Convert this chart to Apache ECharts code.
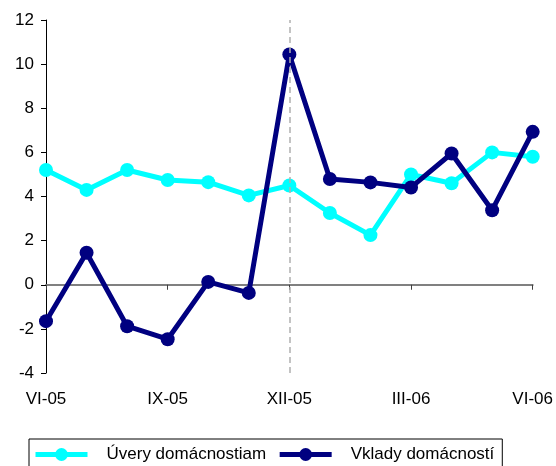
<!DOCTYPE html>
<html>
<head>
<meta charset="utf-8">
<script src="https://cdn.jsdelivr.net/npm/echarts@6/dist/echarts.min.js"></script>
<style>html,body{margin:0;padding:0;background:#fff}#c{width:556px;height:466px}</style>
</head>
<body>
<div id="c"></div>
<script>
var categories = ['VI-05','VII-05','VIII-05','IX-05','X-05','XI-05','XII-05','I-06','II-06','III-06','IV-06','V-06','VI-06'];
var uvery = [5.2, 4.3, 5.2, 4.75, 4.65, 4.05, 4.5, 3.25, 2.25, 5.0, 4.6, 6.0, 5.8];
var vklady = [-1.65, 1.45, -1.88, -2.47, 0.13, -0.37, 10.44, 4.79, 4.64, 4.41, 5.95, 3.38, 6.93];
var seriesNames = ['Úvery domácnostiam', 'Vklady domácností'];
var markedCategory = 'XII-05';

var font = 'Arial, "Liberation Sans", sans-serif';
var chart = echarts.init(document.getElementById('c'), null, {renderer: 'canvas'});
chart.setOption({
  animation: false,
  backgroundColor: '#fff',
  grid: {left: 46, right: 21, top: 20, bottom: 93, containLabel: false},
  legend: {
    left: 29, top: 439,
    padding: [7, 8, 20, 4],
    itemGap: 11,
    itemWidth: 52, itemHeight: 16,
    borderColor: '#000', borderWidth: 1,
    lineStyle: {width: 5},
    textStyle: {fontFamily: font, fontSize: 17, color: '#000', padding: [0, 0, 0, 14]},
    data: seriesNames
  },
  xAxis: [{
    type: 'category', data: categories, boundaryGap: false, position: 'bottom',
    axisLine: {show: false, onZero: false},
    axisTick: {show: false},
    axisLabel: {interval: 2, margin: 18, color: '#000', fontFamily: font, fontSize: 17},
    splitLine: {show: false}
  }, {
    type: 'category', data: categories, boundaryGap: false, position: 'bottom',
    axisLine: {show: true, onZero: true, lineStyle: {color: '#808080', width: 2}},
    axisTick: {show: true, interval: 2, length: 5, lineStyle: {color: '#404040', width: 1}},
    axisLabel: {show: false},
    splitLine: {show: false}
  }],
  yAxis: {
    type: 'value', min: -4, max: 12, interval: 2,
    axisLine: {show: true, lineStyle: {color: '#000', width: 1}},
    axisTick: {show: true, length: 5, lineStyle: {color: '#000'}},
    axisLabel: {margin: 12, color: '#000', fontFamily: font, fontSize: 17},
    splitLine: {show: false}
  },
  series: [{
    name: seriesNames[0], type: 'line', data: uvery, xAxisIndex: 0,
    symbol: 'circle', symbolSize: 14,
    itemStyle: {color: '#00FFFF'},
    lineStyle: {color: '#00FFFF', width: 5},
    markLine: {
      silent: true, symbol: 'none', label: {show: false},
      lineStyle: {color: '#b0b0b0', type: [6, 4], width: 1.5},
      data: [{xAxis: markedCategory}]
    }
  }, {
    name: seriesNames[1], type: 'line', data: vklady, xAxisIndex: 0,
    symbol: 'circle', symbolSize: 14,
    itemStyle: {color: '#000080'},
    lineStyle: {color: '#000080', width: 5}
  }]
});
</script>
</body>
</html>
